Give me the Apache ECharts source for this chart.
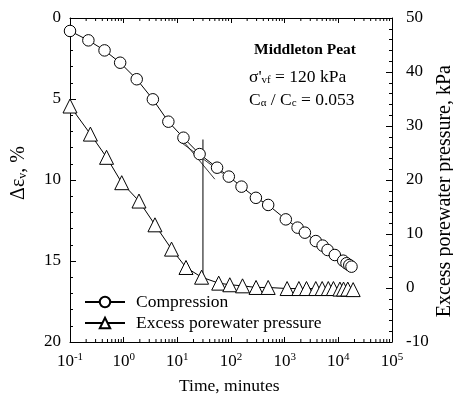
<!DOCTYPE html>
<html>
<head>
<meta charset="utf-8">
<script src="https://cdn.jsdelivr.net/npm/echarts@6/dist/echarts.min.js"></script>
<style>
	html, body { margin: 0; padding: 0; background: #fff; }
	#chart { width: 453px; height: 400px; }
</style>
</head>
<body>
<div id="chart"></div>
<script>
	// compression curve (time in minutes, strain %)
	const compTime = [0.1, 0.22, 0.44, 0.86, 1.75, 3.5, 6.8, 13, 26, 55, 91, 157, 291, 493, 1050, 1740, 2380, 3800, 5100, 6300, 8600, 12300, 14200, 16000, 17600]
	const compStrain = [0.8, 1.38, 2.0, 2.76, 3.78, 5.02, 6.4, 7.39, 8.4, 9.24, 9.79, 10.41, 11.1, 11.54, 12.43, 12.94, 13.25, 13.77, 14.05, 14.32, 14.63, 14.98, 15.14, 15.25, 15.35]

	// excess porewater pressure (kPa)
	const pwpTime = [0.1, 0.24, 0.48, 0.92, 1.93, 3.83, 7.8, 14.5, 28.3, 59, 95, 164, 293, 493, 1110, 1840, 2550, 3800, 5000, 6500, 8100, 10700, 12500, 15000, 18900]
	const pwpValue = [33.7, 28.5, 24.2, 19.5, 16.1, 11.7, 7.2, 3.8, 2.0, 0.9, 0.6, 0.4, 0.1, 0.1, -0.1, -0.1, -0.1, -0.1, -0.1, -0.1, -0.1, -0.2, -0.2, -0.2, -0.3]

	// construction lines for t_p
	const tangentPrimary = [[11.5, 7.4], [50, 9.95]]
	const tangentSecondary = [[12, 7.7], [70, 9.6]]
	const tpTime = 30
	const tpStrainTop = 7.5
	const tpStrainBottom = 16.0

	// axis ticks
	const strainTicks = [0, 5, 10, 15, 20]
	const pwpTicks = [-10, 0, 10, 20, 30, 40, 50]
	const timeDecades = [-1, 0, 1, 2, 3, 4, 5]

	const font = 'Liberation Serif'
	const black = '#000'

	// minor ticks 2..9 in each decade
	const minorTicks = []
	for (let i = 0; i < timeDecades.length - 1; i++) {
		for (let m = 2; m <= 9; m++) {
			minorTicks.push([m * Math.pow(10, timeDecades[i]), 0])
		}
	}

	const chart = echarts.init(document.getElementById('chart'))

	const xAxisBase = {
		type: 'log',
		logBase: 10,
		min: Math.pow(10, timeDecades[0]),
		max: Math.pow(10, timeDecades[timeDecades.length - 1]),
		axisLine: { show: true, onZero: false, lineStyle: { color: black, width: 1 } },
		axisTick: { show: true, inside: true, length: 5, lineStyle: { color: black } },
		splitLine: { show: false },
	}

	const subStyle = { fontFamily: font, fontSize: 11, lineHeight: 11, verticalAlign: 'bottom' }

	const option = {
		animation: false,
		textStyle: { fontFamily: font, color: black },
		grid: { left: 70, right: 61, top: 18, bottom: 58 },
		legend: {
			orient: 'vertical',
			left: 84,
			top: 293,
			padding: 0,
			itemWidth: 40,
			itemHeight: 13,
			itemGap: 3,
			textStyle: { fontFamily: font, fontSize: 17.5, color: black, padding: [0, 0, 0, 6] },
			data: ['Compression', 'Excess porewater pressure'],
		},
		xAxis: [
			Object.assign({}, xAxisBase, {
				position: 'bottom',
				axisLabel: {
					margin: 10,
					color: black,
					formatter: v => '{b|10}{s|' + Math.round(Math.log10(v)) + '}',
					rich: {
						b: { fontFamily: font, fontSize: 17, color: black, lineHeight: 20 },
						s: { fontFamily: font, fontSize: 11, color: black, lineHeight: 11, verticalAlign: 'top' },
					},
				},
			}),
			Object.assign({}, xAxisBase, {
				position: 'top',
				axisLabel: { show: false },
			}),
		],
		yAxis: [{
			type: 'value',
			inverse: true,
			min: strainTicks[0],
			max: strainTicks[strainTicks.length - 1],
			interval: 5,
			position: 'left',
			axisLine: { show: true, onZero: false, lineStyle: { color: black } },
			axisTick: { show: true, inside: true, length: 6, lineStyle: { color: black } },
			minorTick: { show: true, splitNumber: 5, length: 3, lineStyle: { color: black } },
			splitLine: { show: false },
			axisLabel: { color: black, fontFamily: font, fontSize: 17, margin: 9 },
		}, {
			type: 'value',
			min: pwpTicks[0],
			max: pwpTicks[pwpTicks.length - 1],
			interval: 10,
			position: 'right',
			axisLine: { show: true, onZero: false, lineStyle: { color: black } },
			axisTick: { show: true, inside: true, length: 6, lineStyle: { color: black } },
			minorTick: { show: true, splitNumber: 5, length: 3, lineStyle: { color: black } },
			splitLine: { show: false },
			axisLabel: { color: black, fontFamily: font, fontSize: 17, margin: 14, align: 'left' },
		}],
		graphic: [{
			type: 'text',
			left: 9, top: 146,
			rotation: Math.PI / 2,
			style: {
				text: 'Δε{s|v}, %',
				fontFamily: font, fontSize: 20, fill: black,
				rich: { s: { fontFamily: font, fontSize: 12, lineHeight: 12, verticalAlign: 'bottom' } },
			},
		}, {
			type: 'text',
			left: 435, top: 65,
			rotation: Math.PI / 2,
			style: { text: 'Excess porewater pressure, kPa', fontFamily: font, fontSize: 20, fill: black },
		}, {
			type: 'text',
			left: 179, top: 377,
			style: { text: 'Time, minutes', fontFamily: font, fontSize: 17.5, fill: black },
		}, {
			type: 'text',
			left: 254, top: 42,
			style: { text: 'Middleton Peat', fontFamily: font, fontSize: 15.5, fontWeight: 'bold', fill: black },
		}, {
			type: 'text',
			left: 249, top: 68,
			style: {
				text: "σ'{s|vf} = 120 kPa",
				fontFamily: font, fontSize: 17.5, fill: black,
				rich: { s: subStyle },
			},
		}, {
			type: 'text',
			left: 249, top: 91,
			style: {
				text: 'C{s|α} / C{s|c} = 0.053',
				fontFamily: font, fontSize: 17.5, fill: black,
				rich: { s: subStyle },
			},
		}],
		series: [
			{
				name: 'Compression',
				type: 'line',
				xAxisIndex: 0,
				yAxisIndex: 0,
				data: compTime.map((t, i) => [t, compStrain[i]]),
				symbol: 'circle',
				symbolSize: 11.5,
				lineStyle: { color: black, width: 1 },
				itemStyle: { color: '#fff', borderColor: black, borderWidth: 1 },
				z: 5,
			},
			{
				name: 'Excess porewater pressure',
				type: 'line',
				xAxisIndex: 0,
				yAxisIndex: 1,
				data: pwpTime.map((t, i) => [t, pwpValue[i]]),
				symbol: 'triangle',
				symbolSize: 14,
				lineStyle: { color: black, width: 1 },
				itemStyle: { color: '#fff', borderColor: black, borderWidth: 1 },
				z: 5,
			},
			{
				type: 'line',
				data: tangentPrimary,
				symbol: 'none',
				lineStyle: { color: black, width: 0.8 },
				silent: true,
				z: 3,
			},
			{
				type: 'line',
				data: tangentSecondary,
				symbol: 'none',
				lineStyle: { color: black, width: 0.8 },
				silent: true,
				z: 3,
			},
			{
				type: 'line',
				data: [{
					value: [tpTime, tpStrainTop],
					label: {
						show: true,
						position: 'top',
						distance: 2,
						formatter: '{t|t}{p|p}',
						rich: {
							t: { fontFamily: font, fontSize: 17, color: black, lineHeight: 20 },
							p: { fontFamily: font, fontSize: 11, color: black, lineHeight: 11, verticalAlign: 'bottom' },
						},
					},
				}, [tpTime, tpStrainBottom]],
				symbol: 'circle',
				symbolSize: 0,
				itemStyle: { opacity: 0 },
				lineStyle: { color: black, width: 1 },
				silent: true,
				z: 3,
			},
			{
				// minor ticks on the log axis, top and bottom
				type: 'custom',
				data: minorTicks,
				silent: true,
				clip: false,
				renderItem: (params, api) => {
					const bottom = api.coord([api.value(0), strainTicks[strainTicks.length - 1]])
					const top = api.coord([api.value(0), strainTicks[0]])
					return {
						type: 'group',
						children: [{
							type: 'line',
							shape: { x1: bottom[0], y1: bottom[1], x2: bottom[0], y2: bottom[1] - 3 },
							style: { stroke: black, lineWidth: 1 },
						}, {
							type: 'line',
							shape: { x1: top[0], y1: top[1], x2: top[0], y2: top[1] + 3 },
							style: { stroke: black, lineWidth: 1 },
						}],
					}
				},
			},
		],
	}

	chart.setOption(option)
</script>
</body>
</html>
